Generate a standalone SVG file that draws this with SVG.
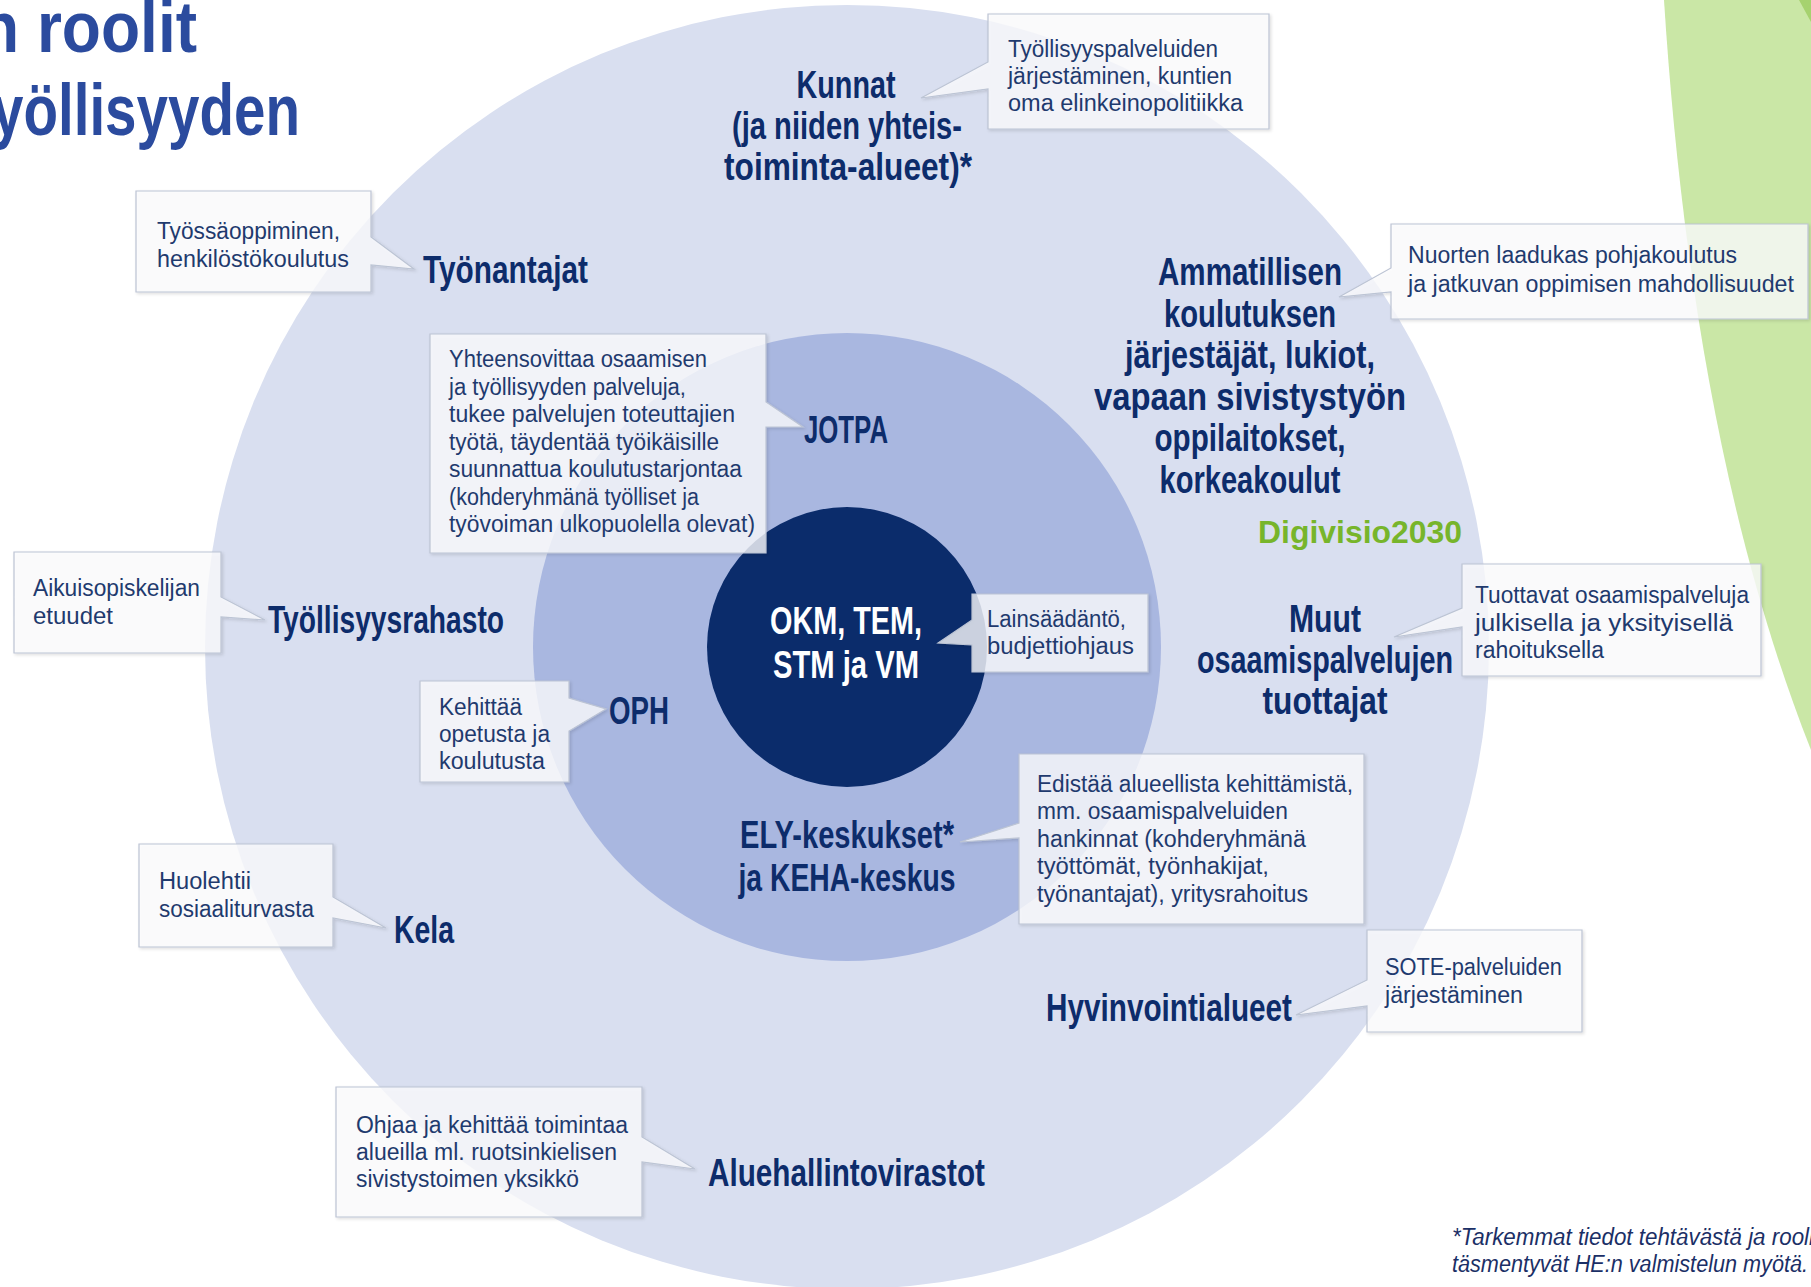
<svg xmlns="http://www.w3.org/2000/svg" width="1811" height="1287" viewBox="0 0 1811 1287">
<defs>
<style>
.t{font-family:'Liberation Sans Narrow','Liberation Sans',Arial,sans-serif;font-weight:bold;font-size:39px;fill:#0D2C6B}
.c{font-family:'Liberation Sans Narrow','Liberation Sans',Arial,sans-serif;font-size:23px;fill:#1F3A6E}
.h{font-family:'Liberation Sans Narrow','Liberation Sans',Arial,sans-serif;font-weight:bold;font-size:72px;fill:#2B4B9E}
.co{fill:#FCFDFE;fill-opacity:0.78;stroke:#BCC4D4;stroke-width:1.2;filter:url(#sh)}
</style>
<filter id="sh" x="-10%" y="-10%" width="120%" height="120%">
<feDropShadow dx="1.5" dy="1.5" stdDeviation="1.5" flood-color="#000" flood-opacity="0.15"/>
</filter>
</defs>
<rect width="1811" height="1287" fill="#FFFFFF"/>
<g id="background">
<path d="M1664,0 C1680,250 1720,520 1811,750 L1811,0 Z" fill="#CAE7A6"/>
<path d="M1799,0 L1811,0 L1811,22 Z" fill="#A6D26F"/>
<text class="h" x="-20" y="52" textLength="217" lengthAdjust="spacingAndGlyphs">n roolit</text>
<text class="h" x="-8" y="135" textLength="308" lengthAdjust="spacingAndGlyphs">yöllisyyden</text>
</g>
<g id="rings">
<circle cx="847" cy="647" r="642" fill="#D9DFF0"/>
<circle cx="847" cy="647" r="314" fill="#A9B7E0"/>
</g>
<g id="connectors"></g>
<g id="ministeriot">
<circle cx="847" cy="647" r="140" fill="#0B2C6B"/>
<text class="t" x="846" y="634" text-anchor="middle" textLength="152" lengthAdjust="spacingAndGlyphs" style="fill:#FFFFFF">OKM, TEM,</text>
<text class="t" x="846" y="678" text-anchor="middle" textLength="146" lengthAdjust="spacingAndGlyphs" style="fill:#FFFFFF">STM ja VM</text>
<path class="co" d="M972,594 H1148 V672 H972 V645 L938,643 L972,620 Z"/>
<text class="c" x="987" y="627" textLength="139" lengthAdjust="spacingAndGlyphs">Lainsäädäntö,</text>
<text class="c" x="987" y="654" textLength="147" lengthAdjust="spacingAndGlyphs">budjettiohjaus</text>
</g>
<g id="kunnat">
<text class="t" x="846" y="98" text-anchor="middle" textLength="99" lengthAdjust="spacingAndGlyphs">Kunnat</text>
<text class="t" x="847" y="139" text-anchor="middle" textLength="230" lengthAdjust="spacingAndGlyphs">(ja niiden yhteis-</text>
<text class="t" x="848" y="180" text-anchor="middle" textLength="248" lengthAdjust="spacingAndGlyphs">toiminta-alueet)*</text>
<path class="co" d="M988,14 H1269 V129 H988 V89 L921,98 L988,62 Z"/>
<text class="c" x="1008" y="57" textLength="210" lengthAdjust="spacingAndGlyphs">Työllisyyspalveluiden</text>
<text class="c" x="1008" y="84" textLength="224" lengthAdjust="spacingAndGlyphs">järjestäminen, kuntien</text>
<text class="c" x="1008" y="111" textLength="235" lengthAdjust="spacingAndGlyphs">oma elinkeinopolitiikka</text>
</g>
<g id="tyonantajat">
<text class="t" x="423" y="283" textLength="165" lengthAdjust="spacingAndGlyphs">Työnantajat</text>
<path class="co" d="M136,191 H371 V237 L414,269 L371,265 V292 H136 Z"/>
<text class="c" x="157" y="239" textLength="183" lengthAdjust="spacingAndGlyphs">Työssäoppiminen,</text>
<text class="c" x="157" y="267" textLength="192" lengthAdjust="spacingAndGlyphs">henkilöstökoulutus</text>
</g>
<g id="jotpa">
<text class="t" x="804" y="443" textLength="84" lengthAdjust="spacingAndGlyphs">JOTPA</text>
<path class="co" d="M430,334 H766 V402 L803,427 L766,427 V553 H430 Z"/>
<text class="c" x="449" y="367" textLength="258" lengthAdjust="spacingAndGlyphs">Yhteensovittaa osaamisen</text>
<text class="c" x="449" y="395" textLength="237" lengthAdjust="spacingAndGlyphs">ja työllisyyden palveluja,</text>
<text class="c" x="449" y="422" textLength="286" lengthAdjust="spacingAndGlyphs">tukee palvelujen toteuttajien</text>
<text class="c" x="449" y="450" textLength="270" lengthAdjust="spacingAndGlyphs">työtä, täydentää työikäisille</text>
<text class="c" x="449" y="477" textLength="293" lengthAdjust="spacingAndGlyphs">suunnattua koulutustarjontaa</text>
<text class="c" x="449" y="505" textLength="250" lengthAdjust="spacingAndGlyphs">(kohderyhmänä työlliset ja</text>
<text class="c" x="449" y="532" textLength="306" lengthAdjust="spacingAndGlyphs">työvoiman ulkopuolella olevat)</text>
</g>
<g id="oppilaitokset">
<text class="t" x="1250" y="285" text-anchor="middle" textLength="184" lengthAdjust="spacingAndGlyphs">Ammatillisen</text>
<text class="t" x="1250" y="327" text-anchor="middle" textLength="172" lengthAdjust="spacingAndGlyphs">koulutuksen</text>
<text class="t" x="1250" y="368" text-anchor="middle" textLength="250" lengthAdjust="spacingAndGlyphs">järjestäjät, lukiot,</text>
<text class="t" x="1250" y="410" text-anchor="middle" textLength="312" lengthAdjust="spacingAndGlyphs">vapaan sivistystyön</text>
<text class="t" x="1250" y="451" text-anchor="middle" textLength="191" lengthAdjust="spacingAndGlyphs">oppilaitokset,</text>
<text class="t" x="1250" y="493" text-anchor="middle" textLength="181" lengthAdjust="spacingAndGlyphs">korkeakoulut</text>
<path class="co" d="M1391,224 H1808 V319 H1391 V292 L1339,297 L1391,268 Z"/>
<text class="c" x="1408" y="263" textLength="329" lengthAdjust="spacingAndGlyphs">Nuorten laadukas pohjakoulutus</text>
<text class="c" x="1408" y="292" textLength="386" lengthAdjust="spacingAndGlyphs">ja jatkuvan oppimisen mahdollisuudet</text>
</g>
<g id="digivisio">
<text x="1258" y="543" font-family="'Liberation Sans',Arial,sans-serif" font-weight="bold" font-size="31" fill="#77B52B" textLength="204" lengthAdjust="spacingAndGlyphs">Digivisio2030</text>
</g>
<g id="tyollisyysrahasto">
<text class="t" x="268" y="633" textLength="236" lengthAdjust="spacingAndGlyphs">Työllisyysrahasto</text>
<path class="co" d="M14,552 H221 V597 L265,620 L221,617 V653 H14 Z"/>
<text class="c" x="33" y="596" textLength="167" lengthAdjust="spacingAndGlyphs">Aikuisopiskelijan</text>
<text class="c" x="33" y="624" textLength="80" lengthAdjust="spacingAndGlyphs">etuudet</text>
</g>
<g id="muut">
<text class="t" x="1325" y="632" text-anchor="middle" textLength="72" lengthAdjust="spacingAndGlyphs">Muut</text>
<text class="t" x="1325" y="673" text-anchor="middle" textLength="256" lengthAdjust="spacingAndGlyphs">osaamispalvelujen</text>
<text class="t" x="1325" y="714" text-anchor="middle" textLength="125" lengthAdjust="spacingAndGlyphs">tuottajat</text>
<path class="co" d="M1462,564 H1761 V676 H1462 V627 L1394,637 L1462,608 Z"/>
<text class="c" x="1475" y="603" textLength="274" lengthAdjust="spacingAndGlyphs">Tuottavat osaamispalveluja</text>
<text class="c" x="1475" y="631" textLength="258" lengthAdjust="spacingAndGlyphs">julkisella ja yksityisellä</text>
<text class="c" x="1475" y="658" textLength="129" lengthAdjust="spacingAndGlyphs">rahoituksella</text>
</g>
<g id="oph">
<text class="t" x="609" y="724" textLength="60" lengthAdjust="spacingAndGlyphs">OPH</text>
<path class="co" d="M420,681 H569 V698 L606,709 L569,731 V782 H420 Z"/>
<text class="c" x="439" y="715" textLength="83" lengthAdjust="spacingAndGlyphs">Kehittää</text>
<text class="c" x="439" y="742" textLength="111" lengthAdjust="spacingAndGlyphs">opetusta ja</text>
<text class="c" x="439" y="769" textLength="106" lengthAdjust="spacingAndGlyphs">koulutusta</text>
</g>
<g id="ely">
<text class="t" x="847" y="848" text-anchor="middle" textLength="214" lengthAdjust="spacingAndGlyphs">ELY-keskukset*</text>
<text class="t" x="847" y="891" text-anchor="middle" textLength="217" lengthAdjust="spacingAndGlyphs">ja KEHA-keskus</text>
<path class="co" d="M1019,754 H1364 V924 H1019 V838 L960,842 L1019,823 Z"/>
<text class="c" x="1037" y="792" textLength="316" lengthAdjust="spacingAndGlyphs">Edistää alueellista kehittämistä,</text>
<text class="c" x="1037" y="819" textLength="251" lengthAdjust="spacingAndGlyphs">mm. osaamispalveluiden</text>
<text class="c" x="1037" y="847" textLength="269" lengthAdjust="spacingAndGlyphs">hankinnat (kohderyhmänä</text>
<text class="c" x="1037" y="874" textLength="232" lengthAdjust="spacingAndGlyphs">työttömät, työnhakijat,</text>
<text class="c" x="1037" y="902" textLength="271" lengthAdjust="spacingAndGlyphs">työnantajat), yritysrahoitus</text>
</g>
<g id="kela">
<text class="t" x="394" y="943" textLength="60" lengthAdjust="spacingAndGlyphs">Kela</text>
<path class="co" d="M139,844 H333 V897 L386,928 L333,918 V947 H139 Z"/>
<text class="c" x="159" y="889" textLength="92" lengthAdjust="spacingAndGlyphs">Huolehtii</text>
<text class="c" x="159" y="917" textLength="155" lengthAdjust="spacingAndGlyphs">sosiaaliturvasta</text>
</g>
<g id="hyvinvointialueet">
<text class="t" x="1046" y="1021" textLength="246" lengthAdjust="spacingAndGlyphs">Hyvinvointialueet</text>
<path class="co" d="M1367,930 H1582 V1032 H1367 V1006 L1296,1015 L1367,980 Z"/>
<text class="c" x="1385" y="975" textLength="177" lengthAdjust="spacingAndGlyphs">SOTE-palveluiden</text>
<text class="c" x="1385" y="1003" textLength="138" lengthAdjust="spacingAndGlyphs">järjestäminen</text>
</g>
<g id="aluehallintovirastot">
<text class="t" x="708" y="1186" textLength="277" lengthAdjust="spacingAndGlyphs">Aluehallintovirastot</text>
<path class="co" d="M336,1087 H642 V1137 L695,1169 L642,1162 V1217 H336 Z"/>
<text class="c" x="356" y="1133" textLength="272" lengthAdjust="spacingAndGlyphs">Ohjaa ja kehittää toimintaa</text>
<text class="c" x="356" y="1160" textLength="261" lengthAdjust="spacingAndGlyphs">alueilla ml. ruotsinkielisen</text>
<text class="c" x="356" y="1187" textLength="223" lengthAdjust="spacingAndGlyphs">sivistystoimen yksikkö</text>
</g>
<g id="footnote">
<text class="c" x="1452" y="1245" font-style="italic" textLength="362" lengthAdjust="spacingAndGlyphs" style="fill:#1B2F66">*Tarkemmat tiedot tehtävästä ja rooli</text>
<text class="c" x="1452" y="1272" font-style="italic" textLength="356" lengthAdjust="spacingAndGlyphs" style="fill:#1B2F66">täsmentyvät HE:n valmistelun myötä.</text>
</g>
</svg>
